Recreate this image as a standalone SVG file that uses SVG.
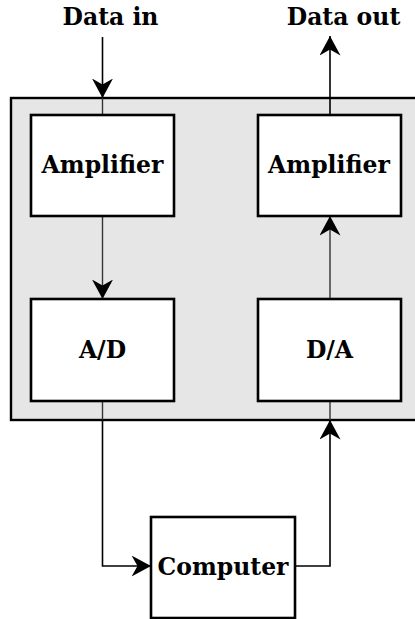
<svg xmlns="http://www.w3.org/2000/svg" width="415" height="619" viewBox="0 0 415 619">
<style>
.box{fill:#fff;stroke:#000;stroke-width:2.6}
.lbl{font-family:"DejaVu Serif",serif;font-size:23.5px;font-weight:bold;fill:#000;text-anchor:middle}
.ln{fill:none;stroke:#000;stroke-width:1.6}
.lni{fill:none;stroke:#333;stroke-width:1.4}
</style>
<defs>
<marker id="ah" markerUnits="userSpaceOnUse" viewBox="0 0 20 21" markerWidth="20" markerHeight="21" refX="19.5" refY="10.5" orient="auto">
<path d="M19.5,10.5 L0,0 L6,10.5 L0,21 Z" fill="#000"/>
</marker>
</defs>
<rect id="frame" x="11" y="98" width="410" height="322" fill="#e6e6e6" stroke="#000" stroke-width="2.4"/>
<g id="connectors">
<path class="ln" d="M102.5,37 V98" marker-end="url(#ah)"/>
<path class="lni" d="M102.5,98 V115"/>
<path class="ln" d="M330,115 V36" marker-end="url(#ah)"/>
<path class="lni" d="M102.5,216 V299" marker-end="url(#ah)"/>
<path class="lni" d="M330,299 V216" marker-end="url(#ah)"/>
<path class="lni" d="M102.5,401 V420"/>
<path class="ln" d="M102.5,420 V566 H151" marker-end="url(#ah)"/>
<path class="ln" d="M295,566 H330 V420" marker-end="url(#ah)"/>
<path class="lni" d="M330,420 V401"/>
</g>
<g id="data-in"><text class="lbl" x="110.5" y="25">Data in</text></g>
<g id="data-out"><text class="lbl" x="343.5" y="25">Data out</text></g>
<g id="amp-in"><rect class="box" x="31" y="115" width="143" height="101"/><text class="lbl" x="102.5" y="173">Amplifier</text></g>
<g id="amp-out"><rect class="box" x="258" y="115" width="143" height="101"/><text class="lbl" x="329" y="173">Amplifier</text></g>
<g id="ad"><rect class="box" x="31" y="299" width="143" height="102"/><text class="lbl" x="102.5" y="357.5">A/D</text></g>
<g id="da"><rect class="box" x="258" y="299" width="143" height="102"/><text class="lbl" x="329.5" y="357.5">D/A</text></g>
<g id="computer"><rect class="box" x="151" y="517" width="144" height="101"/><text class="lbl" x="223" y="575">Computer</text></g>
</svg>
